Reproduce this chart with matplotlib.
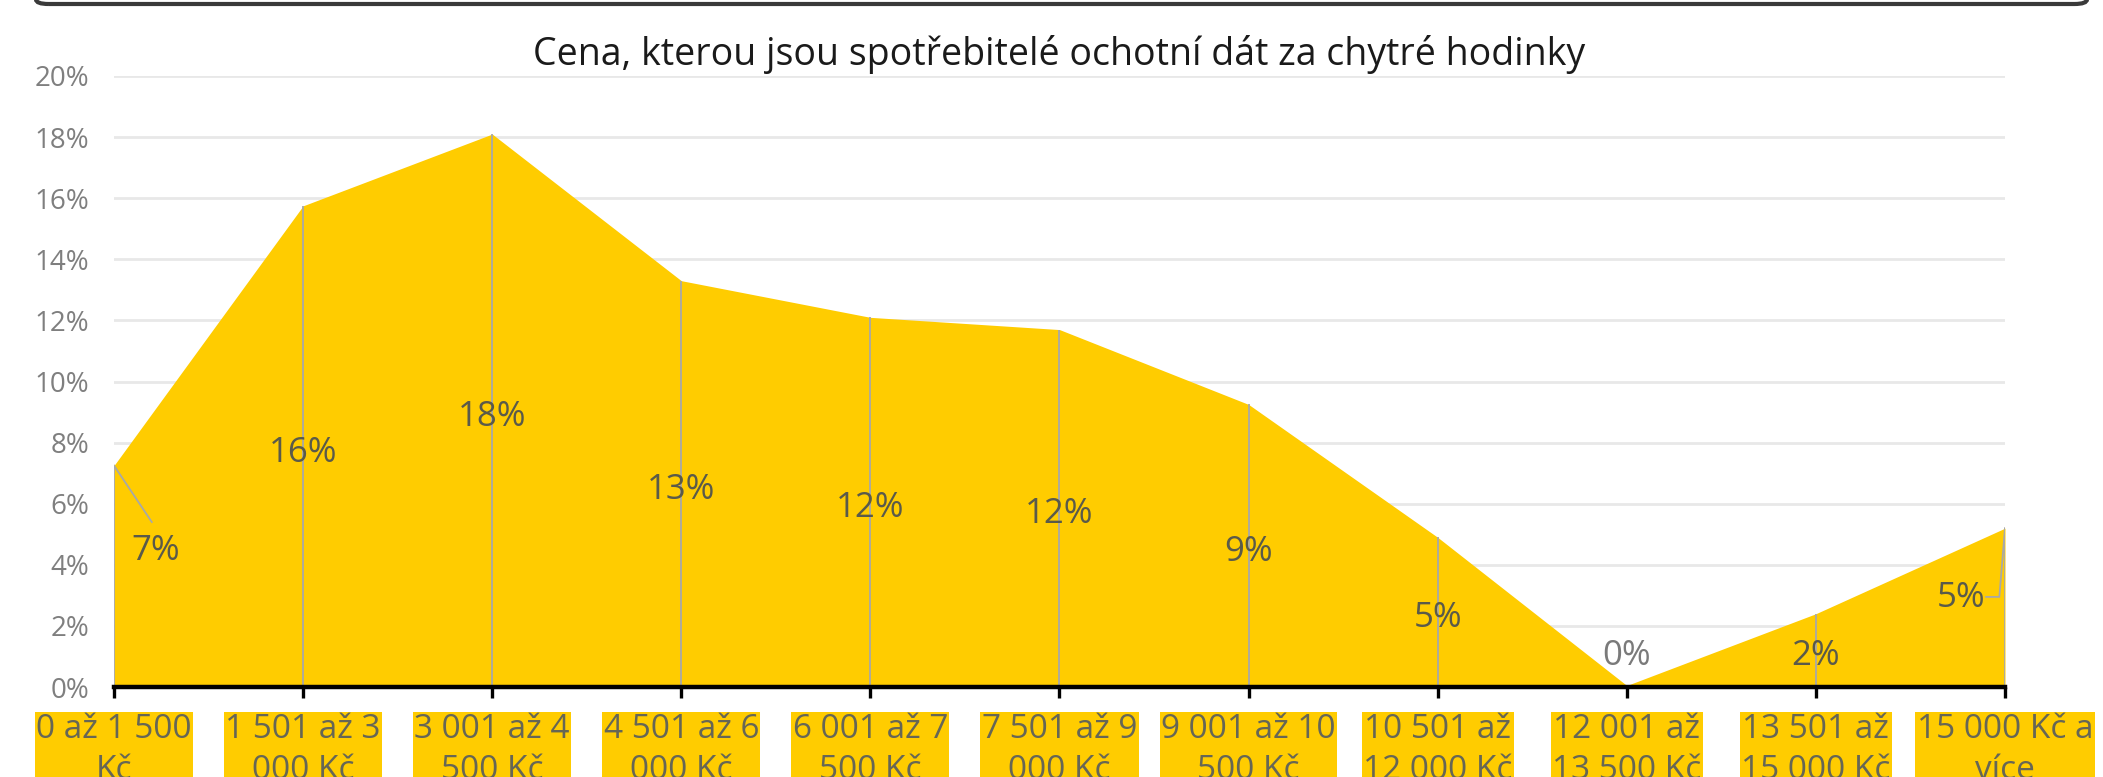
import numpy as np
import matplotlib.pyplot as plt
from matplotlib.patches import FancyBboxPatch

plt.rcParams['font.family'] = ['Open Sans', 'DejaVu Sans']

categories = ['0 až 1 500\nKč', '1 501 až 3\n000 Kč', '3 001 až 4\n500 Kč',
              '4 501 až 6\n000 Kč', '6 001 až 7\n500 Kč', '7 501 až 9\n000 Kč',
              '9 001 až 10\n500 Kč', '10 501 až\n12 000 Kč', '12 001 až\n13 500 Kč',
              '13 501 až\n15 000 Kč', '15 000 Kč a\nvíce']
values = [7.25, 15.75, 18.1, 13.3, 12.1, 11.7, 9.25, 4.9, 0.05, 2.4, 5.2]
labels = ['7%', '16%', '18%', '13%', '12%', '12%', '9%', '5%', '0%', '2%', '5%']
yticks = [0, 2, 4, 6, 8, 10, 12, 14, 16, 18, 20]

yellow = '#FFCC00'
x = np.arange(len(categories))

fig = plt.figure(figsize=(21.03, 7.77), dpi=100)
ax = fig.add_axes([0.0542, 0.1158, 0.8992, 0.7864])

for t in yticks[1:]:
    ax.axhline(t, color='#e8e8e8', lw=2, zorder=0)

ax.fill_between(x, values, 0, color=yellow, lw=0, zorder=1)
ax.vlines(x, 0, values, color='#a8a8a8', lw=1.3, zorder=2)

# data labels at half height, Excel style
for i, (v, s) in enumerate(zip(values, labels)):
    lx, ly = i, v / 2 - 0.2
    col = '#5a5a4a'
    if i == 0:
        lx, ly = 0.22, 4.45
        ax.plot([0, 0.2], [v, 5.4], color='#a8a8a8', lw=1.3, zorder=2)
    elif i == len(values) - 1:
        lx, ly = 9.77, 2.9
        ax.plot([9.9, 9.97, 10], [2.95, 2.95, v], color='#a8a8a8', lw=1.3, zorder=2)
    elif v < 1:
        ly = 1.0
        col = '#7a7a7a'
    ax.text(lx, ly, s, ha='center', va='center', fontsize=25, color=col, zorder=3)

ax.set_xlim(0, 10)
ax.set_ylim(0, 20)
ax.set_yticks(yticks)
ax.set_yticklabels([f'{t}%' for t in yticks], fontsize=20, color='#7f7f7f')
ax.set_xticks(x)
ax.set_xticklabels(categories, fontsize=24, color='#666655', linespacing=1.3)
for lbl in ax.get_xticklabels():
    lbl.set_bbox(dict(facecolor=yellow, edgecolor='none', pad=1.0))

for sp in ['top', 'right', 'left']:
    ax.spines[sp].set_visible(False)
ax.spines['bottom'].set_linewidth(3.2)
ax.spines['bottom'].set_color('black')
ax.spines['bottom'].set_zorder(4)
ax.tick_params(axis='x', length=8, width=2.4, color='black', pad=11)
ax.tick_params(axis='y', length=0, pad=18)

ax.set_title('Cena, kterou jsou spotřebitelé ochotní dát za chytré hodinky',
             fontsize=27, color='#1a1a1a', pad=8)

# bottom edge of the frame above the chart
W, H = 2103, 777
frame = FancyBboxPatch((36 / W, 1 - 4 / H), (2087 - 36) / W, 60 / H,
                       boxstyle='round,pad=0,rounding_size=0.006',
                       transform=fig.transFigure, facecolor='none',
                       edgecolor='#3a3a3a', lw=3, clip_on=False)
fig.patches.append(frame)

fig.savefig('out.png', dpi=100)
